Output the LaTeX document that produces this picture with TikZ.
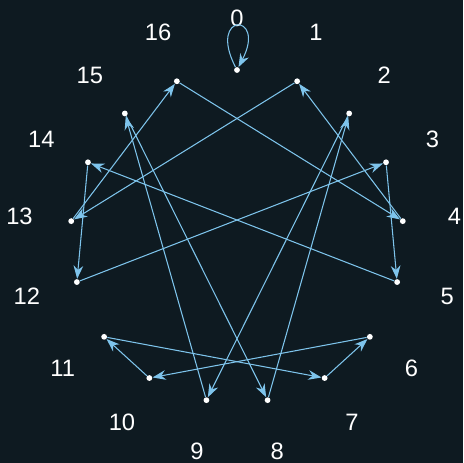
\documentclass[tikz,border=0pt]{standalone}
\usepackage{fontspec}
\setmainfont{Liberation Sans}
\usetikzlibrary{arrows.meta}
\definecolor{Night}{HTML}{0E1A21}
\definecolor{Edge}{HTML}{7EC4EC}
\tikzset{
    dot/.style={circle, fill=white, inner sep=0pt, minimum size=3.3pt},
    numlabel/.style={text=white, font=\fontsize{13.5}{16}\selectfont, inner sep=0pt},
    edge/.style={-{Stealth[length=7.5pt, width=5.5pt, inset=2.4pt]}, color=Edge, line width=0.6pt},
}

\begin{document}
\begin{tikzpicture}[x=0.02cm, y=0.02cm]
    % Background
    \fill[Night] (0,0) rectangle (463,463);
    \useasboundingbox (0,0) rectangle (463,463);

    % Points and numbers round the circle
    \begin{scope}[shift={(237,226.5)}]
        \foreach \k in {0,...,16} {
            \node[dot] (p\k) at ({90-\k*360/17}:166.5) {};
            \node[numlabel] (l\k) at ({90-\k*360/17}:218.5) {\k};
        }
    \end{scope}

    % Maps k to 13k mod 17
    \draw[edge] (p0) .. controls +(-30,58) and +(30,58) .. (p0);
    \foreach \i in {1,...,16} {
        \pgfmathtruncatemacro\j{mod(13*\i,17)}
        \draw[edge] (p\i) -- (p\j);
    }
\end{tikzpicture}
\end{document}
